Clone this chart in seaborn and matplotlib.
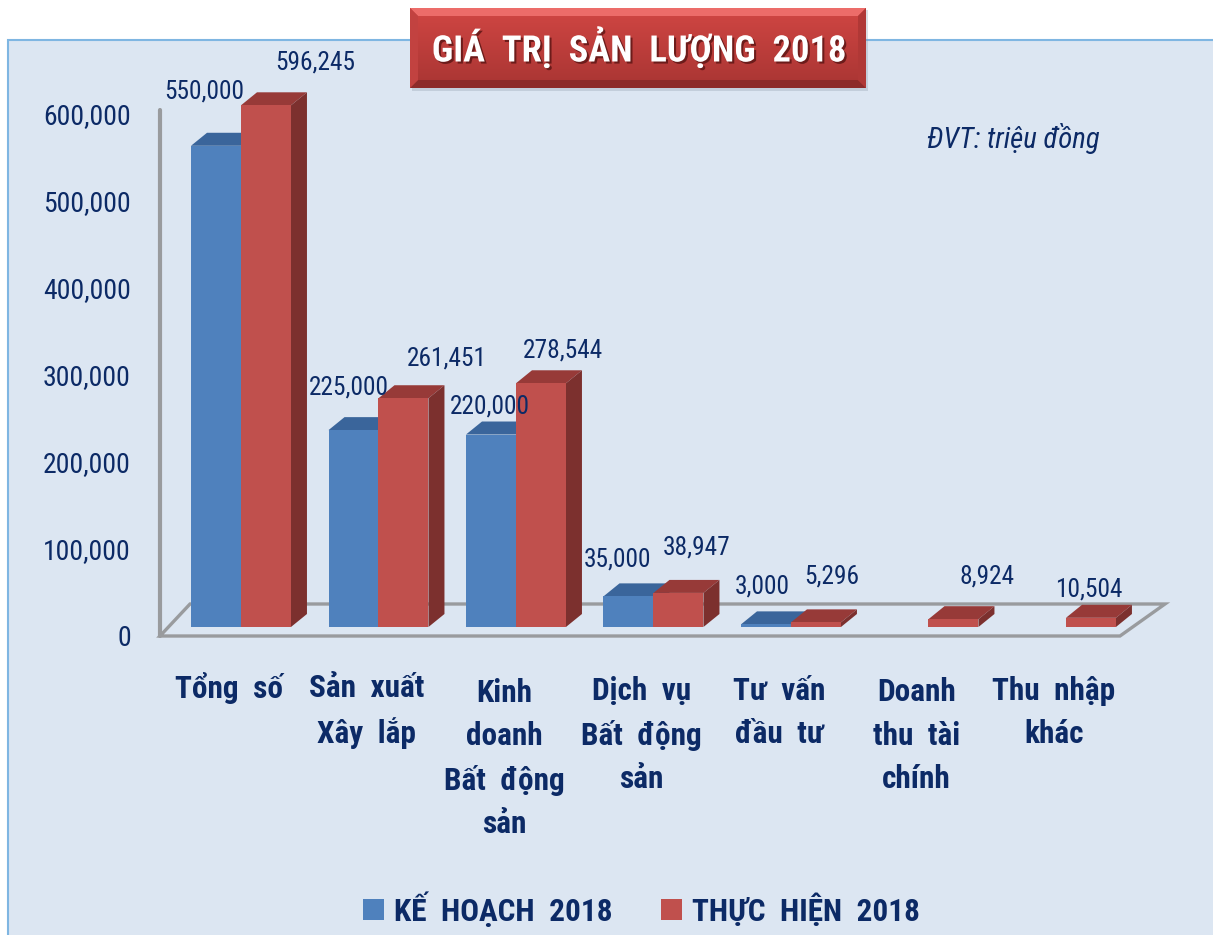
import numpy as np
import pandas as pd
import matplotlib
matplotlib.use("Agg")
import matplotlib.pyplot as plt
import matplotlib.patheffects as pe
from matplotlib.patches import Polygon, Rectangle, Patch
from matplotlib.colors import LinearSegmentedColormap
from matplotlib.transforms import Affine2D, IdentityTransform, ScaledTranslation
import seaborn as sns

# -----------------------------
# DATA
# -----------------------------
categories = ["Tổng số", "Sản xuất\nXây lắp", "Kinh\ndoanh\nBất động\nsản",
              "Dịch vụ\nBất động\nsản", "Tư vấn\nđầu tư", "Doanh\nthu tài\nchính",
              "Thu nhập\nkhác"]
plan = [550000, 225000, 220000, 35000, 3000, np.nan, np.nan]
actual = [596245, 261451, 278544, 38947, 5296, 8924, 10504]
series_names = ["KẾ HOẠCH 2018", "THỰC HIỆN 2018"]
y_ticks = [0, 100000, 200000, 300000, 400000, 500000, 600000]

# label shift from the bar top centre, in pixels
plan_shift = [(-12, 54), (-5, 43), (-1, 28), (-11, 37), (-4, 38), None, None]
actual_shift = [(49, 43), (43, 40), (22, 33), (18, 45), (16, 46), (34, 43), (-2, 28)]

NAVY = "#0c2a66"
GREY = "#999b9e"
PANEL = "#dce6f2"
FACES = {"front": ["#4f81bd", "#c0504d"], "top": ["#3a659b", "#973a38"], "side": ["#35608f", "#7c302e"]}
FONT = ["Roboto Condensed", "DejaVu Sans"]
W, H = 1213, 935

df = pd.DataFrame({
    "category": categories * 2,
    "series": [series_names[0]] * 7 + [series_names[1]] * 7,
    "value": plan + actual,
})

sns.set_theme(style="white")
plt.rcParams["font.family"] = FONT

fig = plt.figure(figsize=(W / 100, H / 100), dpi=100, facecolor="white")
px = Affine2D().scale(1, -1).translate(0, H)  # picture pixels, y down

fig.add_artist(Rectangle((8, 40), W, H, transform=px, facecolor=PANEL,
                         edgecolor="#7fb6e2", linewidth=1.5, zorder=-5))

ax_rect = [160 / W, (H - 636) / H, 960 / W, 536 / H]

# the value scale sits on the front plane, a touch tighter than the bars behind it
yax = fig.add_axes(ax_rect, frameon=False)
yax.set_ylim(0, 616000)
yax.set_xticks([])
yax.set_yticks(y_ticks)
yax.set_yticklabels([f"{v:,}" for v in y_ticks], fontsize=20, color=NAVY)
yax.tick_params(axis="y", length=0, pad=21)

ax = fig.add_axes(ax_rect)
ax.patch.set_visible(False)
sns.barplot(data=df, x="category", y="value", hue="series", hue_order=series_names,
            palette=FACES["front"], width=0.727, gap=0, saturation=1, legend=False, ax=ax)
ax.set_xlim(-0.589, 6.393)
ax.set_ylim(0, 612600)
ax.set_yticks([])
ax.set_xlabel("")
ax.set_ylabel("")
sns.despine(ax=ax, left=True, bottom=True)

# axis wall and floor
ax.add_patch(Polygon([(160, 636), (190, 604), (1165, 604), (1120, 636)], closed=True,
                     transform=px, facecolor="none", edgecolor=GREY, linewidth=2.4,
                     clip_on=False, zorder=0.5))
ax.plot([160, 160], [636, 110], transform=px, color=GREY, lw=3, clip_on=False, zorder=0.5)

# category labels
ax.tick_params(axis="x", length=0, pad=44.5)
ax.set_xticks(range(len(categories)))
ax.set_xticklabels([c.replace(" ", "  ") for c in categories], fontsize=22.5, fontweight="bold",
                   color=NAVY, linespacing=1.55)
# baseline alignment hangs on the last line, so push longer labels down by their line count
for lab, name in zip(ax.get_xticklabels(), categories):
    extra = name.count("\n")
    lab.set_va("baseline")
    lab.set_transform(lab.get_transform() + ScaledTranslation(-12 / 100, -extra * 45 / 100, fig.dpi_scale_trans))

# bars get depth: sit 9 px above the front floor edge, with top and side faces
DX, DY, LIFT = 16, 13, 9
for i, (container, shifts) in enumerate(zip(ax.containers, [plan_shift, actual_shift])):
    for bar, shift in zip(container, shifts):
        h = bar.get_height()
        if np.isnan(h):
            continue
        bar.set_transform(ax.transData + Affine2D().translate(0, LIFT))
        bar.set_clip_on(False)
        bar.set_edgecolor("none")
        bar.set_zorder(2.5 + i)
        x0, y0 = ax.transData.transform((bar.get_x(), 0))
        x1, y1 = ax.transData.transform((bar.get_x() + bar.get_width(), h))
        y0 += LIFT
        y1 += LIFT
        top = [(x0, y1), (x1, y1), (x1 + DX, y1 + DY), (x0 + DX, y1 + DY)]
        side = [(x1, y0), (x1 + DX, y0 + DY), (x1 + DX, y1 + DY), (x1, y1)]
        for pts, face in [(top, "top"), (side, "side")]:
            ax.add_patch(Polygon(pts, closed=True, transform=IdentityTransform(),
                                 facecolor=FACES[face][i], edgecolor="none",
                                 clip_on=False, zorder=2 + i))
        ax.annotate(f"{int(h):,}", xy=((x0 + x1) / 2, y1), xycoords="figure pixels",
                    xytext=(shift[0] * 0.72, shift[1] * 0.72), textcoords="offset points",
                    ha="center", va="center", fontsize=18.3, color=NAVY, zorder=6,
                    annotation_clip=False)

fig.text(1013 / W, 1 - 138 / H, "ĐVT: triệu đồng", ha="center", va="center",
         fontsize=20.8, style="italic", color=NAVY)

# legend
handles = [Patch(facecolor=c, edgecolor="none") for c in FACES["front"]]
fig.legend(handles, [s.replace(" ", "  ") for s in series_names], loc="center",
           bbox_to_anchor=(641.5 / W, 1 - 909 / H), ncol=2, frameon=False,
           prop={"size": 22.5, "weight": "bold"}, labelcolor=NAVY, handlelength=0.67,
           handleheight=0.67, handletextpad=0.32, columnspacing=1.54)

# title plate
tx = fig.add_axes([0, 0, 1, 1], zorder=5)
tx.set_xlim(0, W)
tx.set_ylim(H, 0)
tx.axis("off")
tx.add_patch(Rectangle((412, 10), 456, 81, facecolor="#8a97a8", alpha=0.3, edgecolor="none"))
red = LinearSegmentedColormap.from_list("plate", ["#d04643", "#a93533"])
tx.imshow(np.linspace(0, 1, 80).reshape(-1, 1), cmap=red, extent=(410, 866, 88, 8),
          aspect="auto", zorder=2)
tx.set_xlim(0, W)
tx.set_ylim(H, 0)
for pts, col in [([(410, 8), (866, 8), (858, 16), (418, 16)], "#ec6c69"),
                 ([(410, 88), (866, 88), (858, 80), (418, 80)], "#8d2b2a"),
                 ([(410, 8), (418, 16), (418, 80), (410, 88)], "#c24240"),
                 ([(866, 8), (858, 16), (858, 80), (866, 88)], "#b03836")]:
    tx.add_patch(Polygon(pts, closed=True, facecolor=col, edgecolor="none", zorder=3))
tx.text(639, 48, "GIÁ  TRỊ  SẢN  LƯỢNG  2018", ha="center", va="center", color="white",
        fontsize=26.3, fontweight="bold", zorder=4,
        path_effects=[pe.withSimplePatchShadow(offset=(1.5, -1.5), shadow_rgbFace="#5a1413", alpha=0.8)])

fig.savefig("out.png", dpi=100)
